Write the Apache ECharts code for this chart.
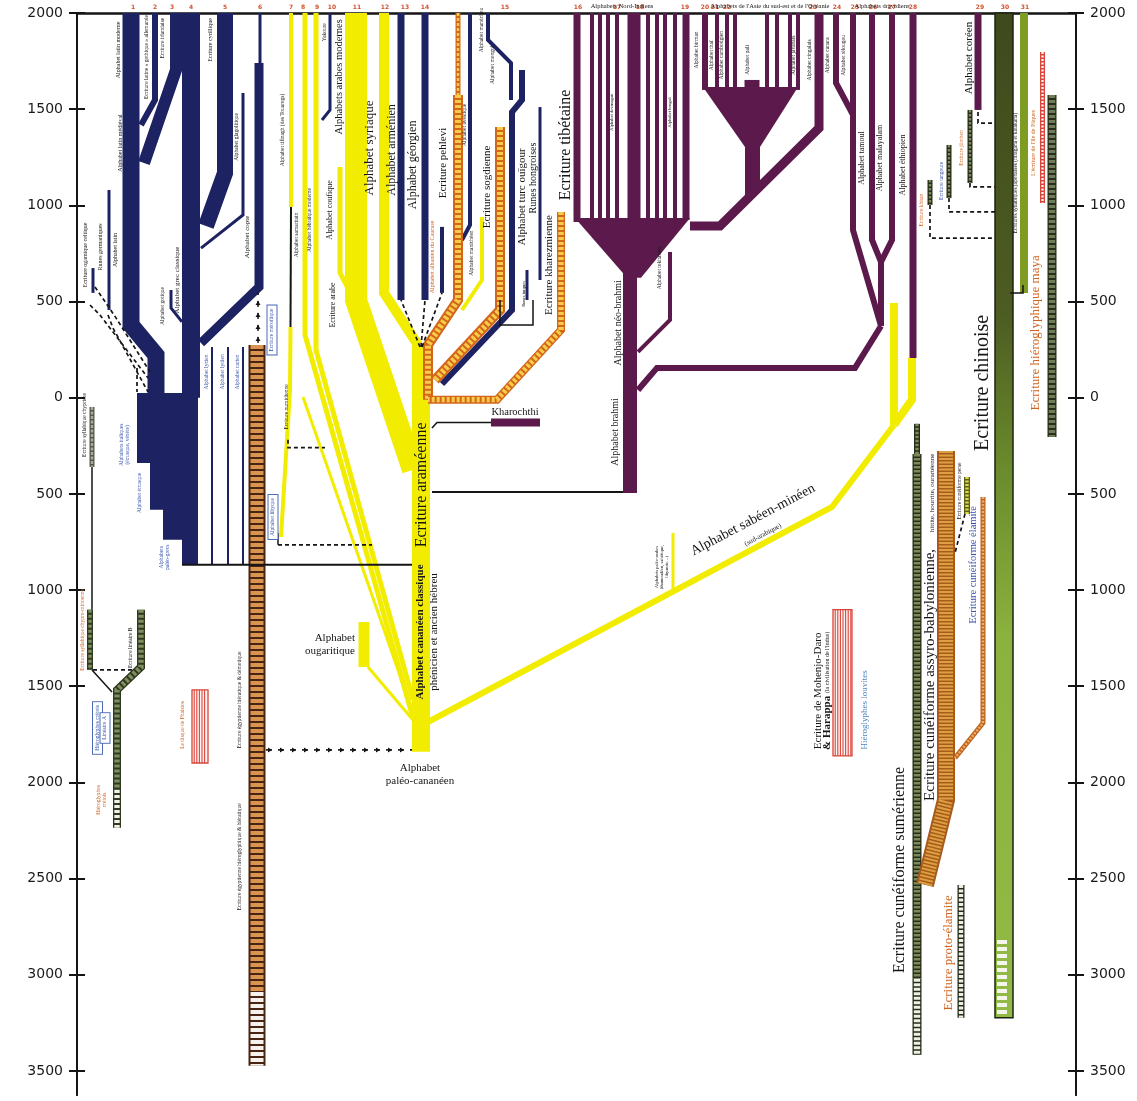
<!DOCTYPE html>
<html lang="fr">
<head>
<meta charset="utf-8">
<title>Histoire de l'écriture</title>
<script src="https://cdn.jsdelivr.net/npm/echarts@6.0.0/dist/echarts.min.js"></script>
<style>
html,body{margin:0;padding:0;background:#fff;}
#chart{width:1137px;height:1101px;}
</style>
</head>
<body>
<div id="chart"></div>
<script>
// ================= DATA =================
// lane = horizontal lane position (0 = left time axis ... 999 = right time axis)
// year : positive = ap. J.-C., negative = av. J.-C.
const yTickYears = [2000, 1500, 1000, 500, 0, -500, -1000, -1500, -2000, -2500, -3000, -3500];
const columnNumbers = ['1','2','3','4','5','6','7','8','9','10','11','12','13','14','15','16','17','18','19','20','21','22','23','24','25','26','27','28','29','30','31'];
const columnLanes = [56,78,95,114,148,183,214,226,240,255,280,308,328,348,428,501,540,563,608,628,638,650,736,760,778,796,815,836,903,928,948];

// Greek / Latin / Caucasian / Turkic family (dark blue)
const navyPaths = [
  [[54,2000],[54,378],[79,222],[79,0]],           // latin moderne
  [[78,2000],[78,1548],[64,1418]],                // latin gothique allemande
  [[99,2000],[99,1704],[67,1220]],                // latin médiéval
  [[114,2000],[114,0]],                           // grec classique
  [[148,2000],[148,1168],[129,893]],              // cyrillique
  [[166,1584],[166,950],[124,778]],               // glagolitique
  [[183,2000],[183,1740]],                        // copte (haut)
  [[182,1740],[182,576],[124,285]],               // copte
  [[32,1080],[32,456]],                           // latin ancien
  [[16,674],[16,545]],                            // runes germaniques
  [[94,560],[94,467],[105,394]],                  // gotique
  [[135,264],[135,-869]],                         // lycien
  [[151,264],[151,-869]],                         // lydien
  [[166,264],[166,-869]],                         // carien
  [[253,2000],[253,1496],[245,1444]],             // yakoute
  [[324,2000],[324,508]],                         // arménien
  [[348,2000],[348,508]],                         // géorgien
  [[365,888],[365,545]],                          // albanien du Caucase
  [[393,2000],[393,898],[385,820]],               // avestique
  [[411,2000],[411,1860],[434,1740],[434,1548]],  // mandchou
  [[445,1704],[445,1548],[435,1485],[435,456],[365,71]], // mongol / ouïgour
  [[463,1511],[463,612]],                         // runes hongroises
  [[450,664],[450,508]]                           // runes turques
];
const navyBlock = [[60,25],[121,25],[121,-869],[105,-869],[105,-739],[86,-739],[86,-583],[73,-583],[73,-339],[60,-339]];

// Semitic family (yellow)
const yellowPaths = [
  [[214,2000],[214,992]],                  // tifinagh (haut)
  [[213.5,368],[213,40],[204,-724]],       // tifinagh / numidien
  [[228,2000],[228,326],[336,-1665]],      // samaritain
  [[239,2000],[239,248],[336,-1571]],      // hébreu
  [[226,4],[336,-1639]],                   // punique
  [[263,1200],[263,649],[273,550]],        // coufique
  [[279,2000],[279,508],[336,-375]],       // arabe
  [[307,2000],[307,545],[341,274]],        // syriaque
  [[344,274],[344,-1841]],                 // araméen / cananéen
  [[405,940],[405,612],[385,456]],         // manichéen
  [[287,-1166],[287,-1400]],               // ougaritique
  [[291,-1400],[336,-1675]],               // lien ougaritique
  [[351,-1686],[755,-568],[817,-142]],     // sabéen-minéen
  [[817,-142],[817,493]],                  // colonne 27
  [[817,-142],[835,-10],[835,207]],        // colonne 28
  [[596,-703],[596,-1004]]                 // paléo-arabes
];

// Indian family (purple)
const purplePaths = [
  [[500,2000],[500,914]],
  [[515,2000],[515,924]],[[523,2000],[523,924]],[[531,2000],[531,924]],[[540,2000],[540,924]],
  [[571,2000],[571,924]],[[580,2000],[580,924]],[[588,2000],[588,924]],[[598,2000],[598,924]],
  [[557,2000],[557,628]],
  [[609,2000],[609,924]],
  [[553,664],[553,-495]],                               // brahmi
  [[613,893],[643,893],[742,1402],[742,2000]],          // cingalais
  [[628,2000],[628,1600]],
  [[640,2000],[640,1600]],[[650,2000],[650,1600]],[[658,2000],[658,1600]],
  [[690,2000],[690,1600]],[[700,2000],[700,1600]],[[713,2000],[713,1600]],[[721,2000],[721,1600]],
  [[675,1652],[675,1590]],                              // pali
  [[593,758],[593,404],[561,238]],                      // tokharien
  [[561,40],[580,155],[778,155],[804,373]],             // vers le sud
  [[759,2000],[759,1636],[776,1470]],                   // canara
  [[776,2000],[776,872],[804,373]],                     // télougou / tamoul
  [[795,2000],[795,820],[804,706]],                     // malayalam
  [[815,2000],[815,820],[804,706]],
  [[804,706],[804,373]],
  [[836,2000],[836,207]],                               // éthiopien
  [[901,2000],[901,1496]],                              // coréen
  [[414,-129],[463,-129]]                               // kharochthi
];
const purpleFans = [
  [[498,934],[613,934],[564,623],[550,623]],
  [[626,1615],[721,1615],[683,1303],[683,1080],[668,1028],[668,1303]]
];

// Ladder-pattern scripts
const ladderPaths = [
  [[381,2000],[381,1574]],
  [[381,1574],[381,508],[351,274],[351,-10]],          // pehlevi
  [[423,1407],[423,456],[358,92]],                     // sogdien
  [[484,966],[484,352],[420,-10],[351,-10]],           // kharezmien
  [[180,274],[180,-3090]],                             // égyptien
  [[180,-3090],[180,-3473]],
  [[15,-48],[15,-360]],                                // chypriote
  [[13,-1102],[13,-1415]],                             // chypro-minoen
  [[64,-1102],[64,-1400],[40,-1519],[40,-2039]],       // linéaire B / A
  [[40,-2039],[40,-2236]],
  [[840,-136],[840,-292]],                             // sumérien
  [[840,-292],[840,-3021]],
  [[840,-3021],[840,-3416]],
  [[869,-277],[869,-2091],[848,-2533]],                // assyro-babylonien
  [[906,-516],[906,-1691],[878,-1873]],                // élamite
  [[890,-412],[890,-604]],                             // perse
  [[884,-2533],[884,-3224]],                           // proto-élamite
  [[893,1496],[893,1116]],
  [[872,1314],[872,1038]],
  [[853,1132],[853,1002]],
  [[975,1574],[975,-204]],                             // maya
  [[965.5,1797],[965.5,1012]]                          // île de Pâques
];
const ladderKinds = ['iran','iran','iran','iran','egypt','egyptWhite','aegeanGrey','aegean','aegean','aegeanWhite',
  'olive','olive','oliveWhite','assyro','elam','perse','oliveWhite','olive','olive','olive','maya','easter'];

const stripeSpans = [[765.5,-1102,-1862],[123,-1519,-1899]];   // Mohenjo-Daro, Phaistos
const chineseBar = [927, 2000, -3224];
const chineseStriped = [-2819, -3224];
const japanesePath = [[947,2000],[947,545]];

const blackLines = [
  [[105,-869],[335,-869]],
  [[355,-490],[546,-490]],
  [[355,-157],[360,-129],[414,-129]],
  [[214,992],[213.5,368]],
  [[933,545],[946,545],[946,586]],
  [[423,508],[423,378],[456,378],[456,508]],
  [[15,-360],[15,-1102]],
  [[15,-1415],[35,-1530]],
  [[201,-703],[201,-765]]
];
const dashedLines = [
  [[13,482],[23,430],[71,103]],
  [[18,576],[39,415],[73,134]],
  [[31,430],[36,362],[71,30]],
  [[60,155],[60,30]],
  [[201,-765],[295,-765]],
  [[211,-218],[211,-260],[248,-260]],
  [[343,264],[324,508]],[[344,264],[348,508]],[[345,264],[365,545]],
  [[901,1485],[901,1428],[918,1428]],
  [[893,1116],[893,1096],[918,1096]],
  [[872,1038],[872,966],[918,966]],
  [[853,1002],[853,830],[918,830]],
  [[888,-604],[878,-807]],
  [[16,-1415],[56,-1415]]
];
const arrowLines = [
  [[181,285],[181,550]],
  [[189,-1831],[335,-1831]]
];

const boxLabels = ['Ecriture méroïtique','Alphabet libyque','Hiéroglyphes crétois','Linéaire A'];
const boxPos = [[195,352],[196,-620],[20.5,-1717],[28,-1717]];

const labels = [
  ['Alphabet latin moderne',41,1808,'t6'],
  ['Ecriture latine « gothique » allemande',70,1771,'t5'],
  ['Ecriture irlandaise',86,1870,'t5'],
  ['Ecriture cyrillique',133,1860,'t6'],
  ['Alphabet glagolitique',160,1356,'t5'],
  ['Alphabet copte',170,836,'t7'],
  ['Alphabet grec classique',100,612,'t7'],
  ['Alphabet gotique',86,477,'t5'],
  ['Alphabet latin',38,768,'t6'],
  ['Alphabet latin médiéval',43,1324,'t6'],
  ['Runes germaniques',23,784,'t6'],
  ['Ecriture ogamique celtique',8,742,'t6'],
  ['Alphabets italiques\n(étrusque, vénète)',48,-245,'t5b'],
  ['Alphabet étrusque',63,-495,'t5b'],
  ['Alphabets\npaléo-grecs',88,-830,'t5b'],
  ['Alphabet lycien',130,134,'t5b'],
  ['Alphabet lydien',146,134,'t5b'],
  ['Alphabet carien',161,134,'t5b'],
  ['Ecriture syllabique chypriote',8,-142,'t5'],
  ['Ecriture syllabique chypro-minoenne',6,-1207,'t5o'],
  ['Ecriture linéaire B',54,-1300,'t5'],
  ['Hiéroglyphes\ncrétois',25,-2091,'t5o'],
  ['Le disque de Phaistos',106,-1701,'t5o'],
  ['Ecriture égyptienne hiératique & démotique',163,-1571,'t5'],
  ['Ecriture égyptienne hiéroglyphique & hiératique',163,-2387,'t5'],
  ['Ecriture numidienne',210,-48,'t5'],
  ['Alphabet tifinagh (des Touaregs)',206,1392,'t5'],
  ['Alphabet samaritain',220,846,'t5'],
  ['Alphabet hébraïque moderne',233,924,'t5'],
  ['Alphabet coufique',253,976,'s8'],
  ['Ecriture arabe',256,482,'s8'],
  ['Alphabets arabes modernes',262,1668,'m10w'],
  ['Yakoute',248,1900,'t5'],
  ['Alphabet syriaque',293,1298,'m13'],
  ['Alphabet arménien',315,1288,'m12'],
  ['Alphabet géorgien',336,1210,'m12'],
  ['Ecriture pehlevi',366,1220,'m11'],
  ['Alphabet avestique',388,1418,'t5'],
  ['Alphabet albanien du Caucase',355,732,'t6o'],
  ['Alphabet manichéen',395,752,'t5'],
  ['Alphabet mandchou',405,1912,'t5'],
  ['Alphabet mongol',416,1730,'t5'],
  ['Ecriture sogdienne',410,1096,'m11'],
  ['Alphabet turc ouïgour',445,1044,'m11'],
  ['Runes hongroises',456,1142,'m10'],
  ['Runes turques',447,540,'t4'],
  ['Ecriture kharezmienne',472,690,'m11'],
  ['Ecriture tibétaine',489,1314,'big16'],
  ['Alphabet néo-brahmi',541,389,'m10'],
  ['Alphabet brahmi',538,-178,'m10'],
  ['Alphabet tokharien',583,674,'t5'],
  ['Kharochthi',438,-74,'h10'],
  ['Ecriture araméenne',345,-453,'big16'],
  ['Alphabet cananéen classique',343,-1218,'m11b'],
  ['phénicien et ancien hébreu',357,-1218,'m11'],
  ['Alphabet\npaléo-cananéen',343,-1961,'h11'],
  ['Alphabet\nougaritique',278,-1285,'h11r'],
  ['Alphabet sabéen-minéen',676,-635,'diag14'],
  ['(sud-arabique)',686,-713,'diag7'],
  ['Alphabets paléo-arabes\n(thamoudéen, safaïtique,\nlihyanite…)',585,-880,'t4'],
  ['Ecriture de Mohenjo-Daro',741,-1524,'m11'],
  ['{a|& Harappa} {b|(la civilisation de l\'Indus)}',750,-1524,'rich'],
  ['Hiéroglyphes louvites',788,-1623,'t8b'],
  ['Ecriture cunéiforme sumérienne',823,-2455,'big16'],
  ['Ecriture cunéiforme assyro-babylonienne,',853,-1441,'m15'],
  ['hittite, hourrite, ourartéenne',855,-495,'s7'],
  ['Ecriture cunéiforme perse',883,-485,'t5'],
  ['Ecriture cunéiforme élamite',896,-869,'m10b'],
  ['Ecriture proto-élamite',872,-2886,'m13o'],
  ['Ecriture chinoise',906,77,'big20'],
  ['Alphabet coréen',892,1766,'m11'],
  ['Ecritures syllabiques japonaises (hiragana et katakana)',939,1168,'t5'],
  ['L\'écriture de l\'île de Pâques',956,1324,'t6o'],
  ['Ecriture hiéroglyphique maya',959,337,'m13o'],
  ['Ecriture jürchen',885,1298,'t5o'],
  ['Ecriture tangoute',865,1127,'t5b'],
  ['Ecriture khitan',845,976,'t5o'],
  ['Alphabet devanagari',535,1485,'t4'],
  ['Alphabet bengali',593,1485,'t4'],
  ['Alphabet birman',620,1808,'t5'],
  ['Alphabet thaï',635,1780,'t5'],
  ['Alphabet cambodgien',645,1780,'t5'],
  ['Alphabet pali',671,1756,'t5'],
  ['Alphabet javanais',717,1780,'t5'],
  ['Alphabet cingalais',733,1756,'t5'],
  ['Alphabet canara',751,1780,'t5'],
  ['Alphabet télougou',767,1780,'t5'],
  ['Alphabet tamoul',785,1246,'s8'],
  ['Alphabet malayalam',803,1246,'s8'],
  ['Alphabet éthiopien',826,1210,'s8'],
  ['Alphabets Nord-Indiens',545,2000,'head'],
  ['Alphabets de l\'Asie du sud-est et de l\'Océanie',693,2000,'head'],
  ['Alphabets dravidiens',805,2000,'head']
];

// ================= STYLES =================
const SERIF = "'Liberation Serif','DejaVu Serif',serif";
const SANS = "'DejaVu Sans','Liberation Sans',sans-serif";
const NAVY = '#1c2262', YELLOW = '#f2ec00', PURPLE = '#5c1a4c', INK = '#151515';
const BLUE = '#3552a8', LBLUE = '#4f86c0', ORANGE = '#cf6420';
const navyWidths = [17,6,12,18,16,3,3,9,3,3,3,2,2,2,3,7,7,4,4,4,6,3,3];
const yellowWidths = [4,4,5,5,3,5,22,10,18,4,11,3,6,8,8,3];
const purpleWidths = [7,4,4,4,4,4,4,4,4,13,7,14,9,6,4,4,4,4,4,4,4,15,4,6,6,6,6,6,6,7,7,8];
const ladderWidths = [5,10,10,8,17,17,5,6,8,8,6,9,9,18,5,6,7,5,5,5,9,5];
const stripeWidths = [19,16];
const blackWidths = [2,2,1.5,2,1.5,1.5,1.5,1.5,1.5];
const LADDER = {
  iran:{o:'#d4661c', i:'#f7cc48', d:[3,2]},
  egypt:{o:'#4a2412', i:'#d9954f', d:[4,2]},
  egyptWhite:{o:'#4a2412', i:'#f6f1ea', d:[4,2]},
  aegean:{o:'#2f3820', i:'#7f8e5e', d:[3,2]},
  aegeanGrey:{o:'#55594a', i:'#a9ac98', d:[3,1.5]},
  aegeanWhite:{o:'#2f3820', i:'#f1f2ea', d:[3,2]},
  olive:{o:'#252c18', i:'#7c8a5a', d:[2.5,1.5]},
  oliveWhite:{o:'#252c18', i:'#eef0e4', d:[3,1.5]},
  assyro:{o:'#a85a1c', i:'#dca040', d:[2,1.5]},
  elam:{o:'#c0641e', i:'#ebb06a', d:[2,1.5]},
  perse:{o:'#5e6016', i:'#d8da4a', d:[2,1.5]},
  maya:{o:'#262d1a', i:'#6f7d58', d:[3,2]},
  easter:{o:'#d8453b', i:'#fff1ee', d:[2,1.5]}
};
const TS = {
  t4:{s:4.5}, t5:{s:5.5}, t5b:{s:5.5,c:BLUE}, t5o:{s:5.5,c:ORANGE}, t6:{s:6}, t6o:{s:6,c:ORANGE}, t7:{s:7},
  s7:{s:7}, s8:{s:8}, t8b:{s:9,c:LBLUE},
  m10:{s:10}, m10w:{s:10.5}, m10b:{s:10.5,c:BLUE}, m11:{s:11}, m11b:{s:11,w:'bold'}, m12:{s:12}, m13:{s:13}, m13o:{s:13,c:ORANGE}, m15:{s:15},
  big16:{s:16}, big20:{s:20},
  h10:{s:10.5,rot:0}, h11:{s:11,rot:0}, h11r:{s:11,rot:0,align:'right'},
  diag14:{s:14,rot:0.487}, diag7:{s:7,rot:0.487},
  head:{s:6.5,rot:0,dy:-7},
  rich:{s:11,rich:{a:{fontSize:11,fontWeight:'bold',fontFamily:SERIF,fill:INK},b:{fontSize:6,fontFamily:SERIF,fill:INK}}}
};

// ================= RENDERING =================
const chart = echarts.init(document.getElementById('chart'));

function line(path, api, stroke, w, extra) {
  return { type:'polyline', shape:{ points: path.map(p => api.coord(p)) },
    style: Object.assign({ fill:'none', stroke, lineWidth:w, lineJoin:'miter', miterLimit:3, lineCap:'butt' }, extra || {}) };
}
function layer(items, z, draw) {
  return { type:'custom', coordinateSystem:'cartesian2d', silent:true, clip:false, z,
    data: items.map(it => Array.isArray(it[0]) ? it[0] : [it[1], it[2]]),
    renderItem: (params, api) => draw(items[params.dataIndex], params.dataIndex, api) };
}

const series = [];
series.push(layer(yellowPaths, 2, (p, i, api) => line(p, api, YELLOW, yellowWidths[i])));
series.push(layer([navyBlock], 3, (p, i, api) => ({ type:'polygon', shape:{ points: p.map(q => api.coord(q)) }, style:{ fill: NAVY } })));
series.push(layer(navyPaths, 3, (p, i, api) => line(p, api, NAVY, navyWidths[i])));
series.push(layer(purpleFans, 3, (p, i, api) => ({ type:'polygon', shape:{ points: p.map(q => api.coord(q)) }, style:{ fill: PURPLE } })));
series.push(layer(purplePaths, 3, (p, i, api) => line(p, api, PURPLE, purpleWidths[i])));
series.push(layer([japanesePath], 3, (p, i, api) => line(p, api, '#7f9c22', 8)));
series.push(layer([chineseBar], 3, (b, i, api) => {
  const w = 18;
  const a = api.coord([b[0], b[1]]), c = api.coord([b[0], b[2]]);
  const s0 = api.coord([b[0], chineseStriped[0]]), s1 = api.coord([b[0], chineseStriped[1]]);
  const stops = [{offset:0,color:'#3f4a1c'},{offset:0.3,color:'#4d5c22'},{offset:0.45,color:'#6a8a2c'},{offset:0.62,color:'#8bb13e'},{offset:1,color:'#94ba46'}];
  const grad = (echarts.graphic && echarts.graphic.LinearGradient) ? new echarts.graphic.LinearGradient(0,0,0,1,stops) : {type:'linear',x:0,y:0,x2:0,y2:1,colorStops:stops};
  return { type:'group', children:[
    { type:'rect', shape:{ x:a[0]-w/2, y:a[1], width:w, height:c[1]-a[1] }, style:{ fill:grad, stroke:'#1d2410', lineWidth:1.5 } },
    { type:'line', shape:{ x1:s0[0]-2, y1:s0[1], x2:s1[0]-2, y2:s1[1]-2 }, style:{ stroke:'#f4f6ec', lineWidth:10, lineDash:[4,3] } }
  ]};
}));
series.push(layer(ladderPaths, 4, (p, i, api) => {
  const k = LADDER[ladderKinds[i]], w = ladderWidths[i];
  const iw = Math.max(w - (w >= 10 ? 4 : 2.6), 2);
  return { type:'group', children:[ line(p, api, k.o, w), line(p, api, k.i, iw, { lineDash:k.d }) ] };
}));
series.push(layer(stripeSpans, 4, (s, i, api) => {
  const w = stripeWidths[i];
  const a = api.coord([s[0], s[1]]), b = api.coord([s[0], s[2]]);
  const x0 = a[0] - w/2;
  const ch = [{ type:'rect', shape:{ x:x0, y:a[1], width:w, height:b[1]-a[1] }, style:{ fill:'#fff4f1', stroke:'#d8453b', lineWidth:1.3 } }];
  for (let x = x0 + 2.2; x < x0 + w - 1; x += 2.6) {
    ch.push({ type:'line', shape:{ x1:x, y1:a[1], x2:x, y2:b[1] }, style:{ stroke:'#d8453b', lineWidth:1.1 } });
  }
  return { type:'group', children: ch };
}));
series.push(layer(blackLines, 5, (p, i, api) => line(p, api, INK, blackWidths[i])));
series.push(layer(dashedLines, 5, (p, i, api) => line(p, api, INK, 1.7, { lineDash:[4,3] })));
series.push(layer(arrowLines, 5, (path, i, api) => {
  const p = path.map(q => api.coord(q));
  const ch = [{ type:'polyline', shape:{ points:p }, style:{ fill:'none', stroke:INK, lineWidth:1.6, lineDash:[6,6] } }];
  for (let k = 0; k < p.length - 1; k++) {
    const x0 = p[k][0], y0 = p[k][1], x1 = p[k+1][0], y1 = p[k+1][1];
    const L = Math.hypot(x1-x0, y1-y0), ux = (x1-x0)/L, uy = (y1-y0)/L;
    for (let t = 6; t <= L; t += 12) {
      const cx = x0 + ux*t, cy = y0 + uy*t;
      ch.push({ type:'polygon', shape:{ points:[[cx,cy],[cx-ux*4-uy*2.5, cy-uy*4+ux*2.5],[cx-ux*4+uy*2.5, cy-uy*4-ux*2.5]] }, style:{ fill:INK } });
    }
  }
  return { type:'group', children: ch };
}));
series.push(layer(boxLabels.map((t, i) => [t, boxPos[i][0], boxPos[i][1]]), 8, (b, i, api) => {
  const c = api.coord([b[1], b[2]]);
  return { type:'text', x:c[0], y:c[1], rotation:Math.PI/2,
    style:{ text:b[0], fontSize:5.5, fontFamily:SERIF, fill:BLUE, align:'center', verticalAlign:'middle', textAlign:'center', textVerticalAlign:'middle',
      backgroundColor:'#ffffff', borderColor:'#4a6ab8', borderWidth:1, padding:[1.5,3] } };
}));
series.push(layer(labels, 10, (l, i, api) => {
  const s = TS[l[3]];
  const c = api.coord([l[1], l[2]]);
  const style = { text:l[0], fontSize:s.s, fontFamily:SERIF, fontWeight:s.w || 'normal', fill:s.c || INK,
    align:s.align || 'center', verticalAlign:'middle', textAlign:s.align || 'center', textVerticalAlign:'middle', lineHeight:Math.round(s.s*1.15) };
  if (typeof s.rich === 'object') style.rich = s.rich;
  return { type:'text', x:c[0], y:c[1] + (s.dy || 0), rotation: s.rot === undefined ? Math.PI/2 : s.rot, style };
}));

function yAxisDef(position, inside, withLabels) {
  return { type:'value', min:-3625, max:2000, position,
    axisLine:{ show:true, onZero:false, lineStyle:{ color:INK, width:2 } },
    axisTick:{ show:true, inside, length:8, customValues:yTickYears, lineStyle:{ color:INK, width:2 } },
    axisLabel:{ show:withLabels, customValues:yTickYears, formatter:v => String(Math.abs(v)), margin:14,
      fontSize:14, fontFamily:SANS, color:'#1a1a1a' },
    splitLine:{ show:false } };
}

chart.setOption({
  animation:false,
  backgroundColor:'#ffffff',
  grid:{ left:77, right:61, top:13, bottom:6, containLabel:false },
  xAxis:{ type:'value', min:0, max:999, position:'top',
    axisLine:{ show:true, onZero:false, lineStyle:{ color:INK, width:2.5 } }, axisTick:{ show:false },
    axisLabel:{ customValues:columnLanes, margin:3, fontSize:6, fontWeight:'bold', color:'#d2502a', fontFamily:SANS,
      formatter:v => { const k = columnLanes.indexOf(v); return k >= 0 ? columnNumbers[k] : ''; } },
    splitLine:{ show:false } },
  yAxis:[ yAxisDef('left', false, true), yAxisDef('left', true, false), yAxisDef('right', false, true), yAxisDef('right', true, false) ],
  series: series.map((s, idx) => Object.assign(s, { yAxisIndex:0, xAxisIndex:0, name:'layer' + idx }))
});
</script>
</body>
</html>
